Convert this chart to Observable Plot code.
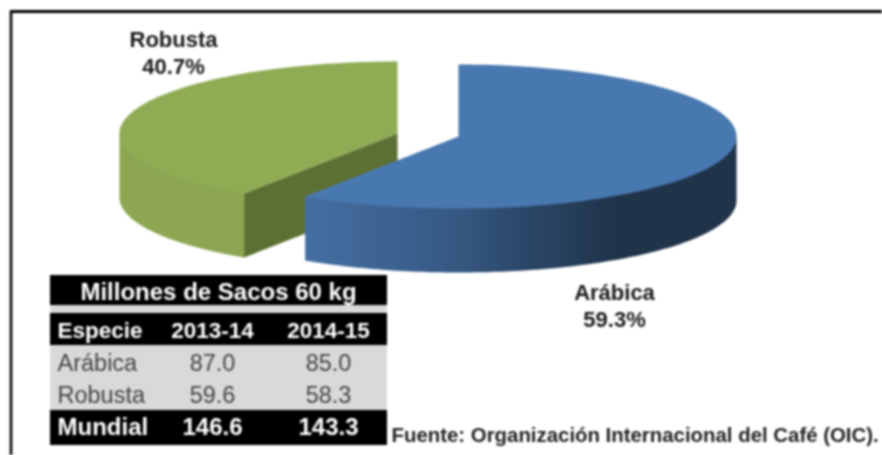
<!DOCTYPE html>
<html>
<head>
<meta charset="utf-8">
<script src="https://cdn.jsdelivr.net/npm/d3@7"></script>
<script src="https://cdn.jsdelivr.net/npm/@observablehq/plot@0.6"></script>
<style>
html,body{margin:0;padding:0;background:#fff;overflow:hidden}
svg{display:block;filter:blur(0.9px)}
</style>
</head>
<body>
<div id="chart"></div>
<script>
// Data
const species = ["Arábica", "Robusta"];
const shares = [59.3, 40.7];
const tableTitle = "Millones de Sacos 60 kg";
const tableColumns = ["Especie", "2013-14", "2014-15"];
const values201314 = [87.0, 59.6];
const values201415 = [85.0, 58.3];
const worldLabel = "Mundial";
const world = [146.6, 143.3];
const source = "Fuente: Organización Internacional del Café (OIC).";

// Pie projection (plot units = px)
const rx = 278, ry = 72, depth = 64;
const centers = {blue: [458, 136], green: [397, 133]};

// angle a is clockwise from 12 o'clock, in degrees
const rim = (c, a) => [c[0] + rx * Math.sin(a * Math.PI / 180), c[1] - ry * Math.cos(a * Math.PI / 180)];
const arc = (c, a0, a1, dy = 0) => d3.range(0, 121).map(i => {
  const [x, y] = rim(c, a0 + (a1 - a0) * i / 120);
  return {x, y: y + dy};
});
// side band: its upper edge tucks under the top face so no seam shows
const band = (c, a0, a1) => {
  const edge = arc(c, a0, a1);
  const upper = edge.map((p, i) => (i === 0 || i === 120) ? p : {x: p.x, y: p.y - 2});
  return [...upper, ...edge.slice().reverse().map(p => ({x: p.x, y: p.y + depth}))];
};

const blueSweep = shares[0] * 3.6;
const greenStart = 360 - shares[1] * 3.6;

const blueTop = [{x: centers.blue[0], y: centers.blue[1]}, ...arc(centers.blue, 0, blueSweep)];
const blueSide = band(centers.blue, 90, blueSweep);

const greenTop = [{x: centers.green[0], y: centers.green[1]}, ...arc(centers.green, greenStart, 360)];
const greenSide = band(centers.green, greenStart, 270);
const gs = rim(centers.green, greenStart);
const greenWall = [
  {x: centers.green[0], y: centers.green[1]},
  {x: gs[0], y: gs[1]},
  {x: gs[0], y: gs[1] + depth},
  {x: centers.green[0], y: centers.green[1] + depth}
];

const shape = (pts, fill) => Plot.line(pts, {x: "x", y: "y", fill, stroke: null, curve: "linear"});

const defs = () => {
  const ns = "http://www.w3.org/2000/svg";
  const d = document.createElementNS(ns, "defs");
  const g = document.createElementNS(ns, "linearGradient");
  g.setAttribute("id", "blueSideGrad");
  g.setAttribute("gradientUnits", "userSpaceOnUse");
  g.setAttribute("x1", 303); g.setAttribute("x2", 620);
  g.setAttribute("y1", 0); g.setAttribute("y2", 0);
  [[0, "#456fa3"], [0.45, "#375a85"], [0.7, "#2b4768"], [1, "#1f3349"]].forEach(([o, c]) => {
    const s = document.createElementNS(ns, "stop");
    s.setAttribute("offset", o); s.setAttribute("stop-color", c);
    g.appendChild(s);
  });
  d.appendChild(g);
  return d;
};

// Table layout
const tx0 = 50, tx1 = 387;
const colX = [57, 212, 328];
const rowY = {title: 292, head: 330, a: 363, b: 395, w: 427};
const tableBands = [
  {y1: 275, y2: 305, f: "#000"},
  {y1: 305, y2: 313, f: "#d9d9d9"},
  {y1: 313, y2: 345, f: "#000"},
  {y1: 345, y2: 410, f: "#d9d9d9"},
  {y1: 410, y2: 445, f: "#000"}
];
const fmt = d3.format(".1f");
const rows = [
  {cells: tableColumns, y: rowY.head, fill: "#fff", weight: "bold", size: 22.5},
  {cells: [species[0], fmt(values201314[0]), fmt(values201415[0])], y: rowY.a, fill: "#444", weight: "normal", size: 23.5},
  {cells: [species[1], fmt(values201314[1]), fmt(values201415[1])], y: rowY.b, fill: "#444", weight: "normal", size: 23.5},
  {cells: [worldLabel, fmt(world[0]), fmt(world[1])], y: rowY.w, fill: "#fff", weight: "bold", size: 24}
];
const rowMarks = rows.flatMap(r => r.cells.map((t, i) =>
  Plot.text([t], {
    x: () => colX[i], y: () => r.y, text: d => d,
    textAnchor: i === 0 ? "start" : "middle",
    fill: r.fill, fontWeight: r.weight, fontSize: r.size
  })
));

const label = (t, x, y, size = 22) => Plot.text([t], {
  x: () => x, y: () => y, text: d => d, fontWeight: "bold", fontSize: size, fill: "#1a1a1a"
});

const chart = Plot.plot({
  width: 882, height: 455,
  margin: 0,
  style: {background: "#fff", fontFamily: "'Liberation Sans', Arial, sans-serif"},
  x: {domain: [0, 882], range: [0, 882], axis: null},
  y: {domain: [0, 455], range: [0, 455], axis: null},
  marks: [
    defs,
    // image frame
    Plot.ruleY([11], {x1: 10, x2: 882, stroke: "#000", strokeWidth: 3}),
    Plot.ruleX([10.5], {y1: 11, y2: 455, stroke: "#000", strokeWidth: 2.6}),
    // Robusta slice
    shape(greenSide, "#8ca651"),
    shape(greenWall, "#5d7033"),
    shape(greenTop, "#8fac54"),
    // Arábica slice
    shape(blueSide, "url(#blueSideGrad)"),
    shape(blueTop, "#4878b0"),
    // pie labels
    label(species[1], 173, 39),
    label(`${shares[1]}%`, 173, 66),
    label(species[0], 614, 292),
    label(`${shares[0]}%`, 614, 319),
    // table
    ...tableBands.map(b => Plot.rect([b], {x1: () => tx0, x2: () => tx1, y1: "y1", y2: "y2", fill: "f"})),
    Plot.text([tableTitle], {x: () => 218, y: () => rowY.title, text: d => d, fill: "#fff", fontWeight: "bold", fontSize: 24}),
    ...rowMarks,
    // source
    Plot.text([source], {x: () => 391, y: () => 435, text: d => d, textAnchor: "start", fontWeight: "bold", fontSize: 20.4, fill: "#222"})
  ]
});
document.getElementById("chart").appendChild(chart);
</script>
</body>
</html>
